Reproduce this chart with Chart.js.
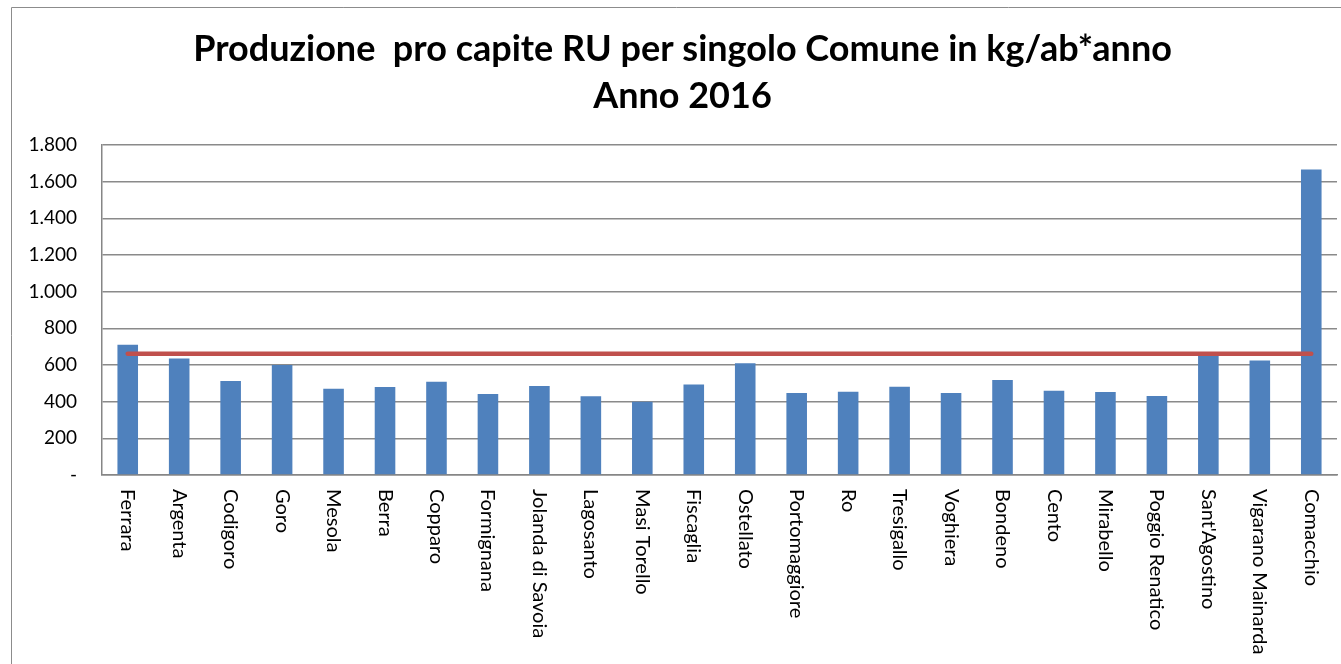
<!DOCTYPE html>
<html><head><meta charset="utf-8">
<script src="https://cdn.jsdelivr.net/npm/chart.js@4.4.1/dist/chart.umd.min.js"></script>
<style>html,body{margin:0;padding:0;background:#fff;overflow:hidden}#wrap{position:relative;width:1341px;height:664px}</style>
</head><body><div id="wrap"><canvas id="c" width="1341" height="664"></canvas></div>
<script>
const categories = ["Ferrara","Argenta","Codigoro","Goro","Mesola","Berra","Copparo","Formignana","Jolanda di Savoia","Lagosanto","Masi Torello","Fiscaglia","Ostellato","Portomaggiore","Ro","Tresigallo","Voghiera","Bondeno","Cento","Mirabello","Poggio Renatico","Sant'Agostino","Vigarano Mainarda","Comacchio"];
const produzione = [711,636,513,600,471,480,509,442,486,430,399,494,610,447,454,481,447,518,460,453,431,650,624,1667];
const mediaProvinciale = [662,662,662,662,662,662,662,662,662,662,662,662,662,662,662,662,662,662,662,662,662,662,662,662];
const yTicks = [0,200,400,600,800,1000,1200,1400,1600,1800];
const titleLines = ["Produzione  pro capite RU per singolo Comune in kg/ab*anno","Anno 2016"];

function fmt(v){ return v === 0 ? '-' : String(v).replace(/\B(?=(\d{3})+(?!\d))/g,'.'); }

const frame = {
  id:'frame',
  beforeDraw(chart){
    const ctx = chart.ctx;
    ctx.save();
    ctx.strokeStyle = '#8c8c8c'; ctx.lineWidth = 1;
    ctx.beginPath(); ctx.moveTo(11.5, 664); ctx.lineTo(11.5, 7.5); ctx.lineTo(1341, 7.5); ctx.stroke();
    ctx.restore();
  }
};
const xLabels = {
  id:'xLabels',
  afterDraw(chart){
    const xs = chart.scales.x, ctx = chart.ctx;
    ctx.save();
    ctx.font = '20px Lato'; ctx.fillStyle = '#000'; ctx.textAlign = 'left'; ctx.textBaseline = 'middle';
    categories.forEach((c,i)=>{
      const x = xs.getPixelForTick(i);
      ctx.save(); ctx.translate(x, xs.top + 14); ctx.rotate(Math.PI/2); ctx.fillText(c, 0, 0); ctx.restore();
    });
    ctx.restore();
  }
};

new Chart(document.getElementById('c'), {
  data: {
    labels: categories,
    datasets: [
      { type:'line', label:'Media', data: mediaProvinciale, borderColor:'#C0504D', borderWidth:4.5, pointRadius:0, borderCapStyle:'round', order:0 },
      { type:'bar', label:'Produzione pro capite', data: produzione, backgroundColor:'#4F81BD', borderWidth:0, barPercentage:0.8, categoryPercentage:0.5, order:1 }
    ]
  },
  options: {
    responsive:false, animation:false, devicePixelRatio:1,
    layout:{ padding:{ left:28, right:4, top:0, bottom:0 } },
    plugins:{
      legend:{ display:false }, tooltip:{ enabled:false },
      title:{ display:true, text: titleLines, color:'#000', align:'center',
        font:{ family:'Lato', weight:'bold', size:36, lineHeight:47/36 }, padding:{ top:26, bottom:25 } }
    },
    scales:{
      x:{ grid:{ display:false }, border:{ display:true, color:'#868686', width:1.5 },
          ticks:{ display:false }, afterFit(s){ s.height = 189; } },
      y:{ min:0, max:1800,
          afterBuildTicks(s){ s.ticks = yTicks.map(v=>({value:v})); },
          grid:{ color:'#8a8a8a', lineWidth:1.5, drawTicks:false },
          border:{ display:true, color:'#868686', width:1.5 },
          ticks:{ padding:25, color:'#000', font:{ family:'Lato', size:19 }, callback:(v)=>fmt(v) },
          afterFit(s){ s.width = 74; } }
    }
  },
  plugins:[frame, xLabels]
});
</script></body></html>
